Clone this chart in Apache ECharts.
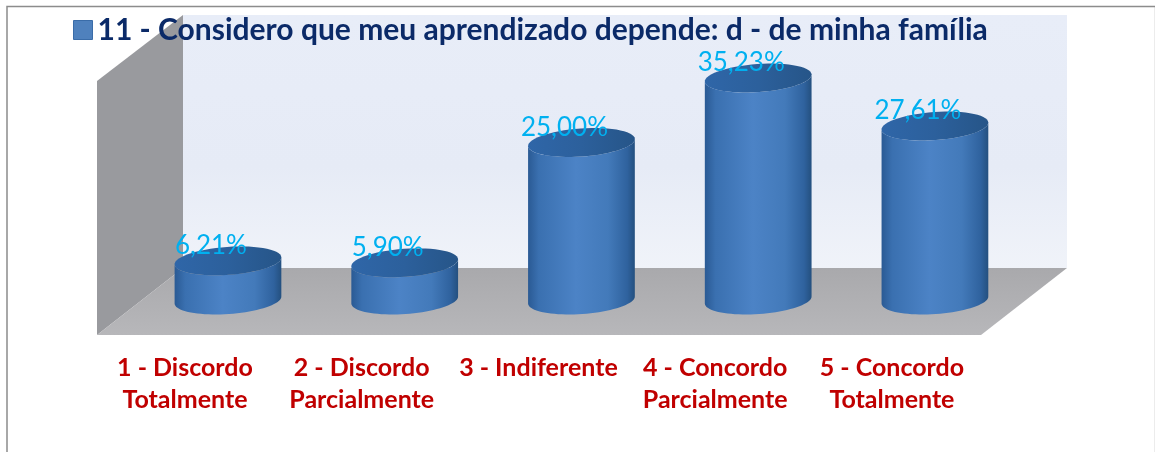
<!DOCTYPE html>
<html><head><meta charset="utf-8">
<style>html,body{margin:0;padding:0;background:#fff;overflow:hidden}#c{width:1155px;height:452px}</style>
<script src="https://cdn.jsdelivr.net/npm/echarts@6/dist/echarts.min.js"></script>
</head><body><div id="c"></div>
<script>
const seriesName = '11 - Considero que meu aprendizado depende: d - de minha família';
const categories = ['1 - Discordo\nTotalmente','2 - Discordo\nParcialmente','3 - Indiferente','4 - Concordo\nParcialmente','5 - Concordo\nTotalmente'];
const values = [6.21, 5.90, 25.00, 35.23, 27.61];

const chart = echarts.init(document.getElementById('c'), null, {renderer:'canvas'});
const TILT = -4 * Math.PI / 180, RX = 53.5, RY = 14;
function ell(cx, cy, a0, a1, n) {
  const pts = [];
  for (let i = 0; i <= n; i++) {
    const a = a0 + (a1 - a0) * i / n, x = RX * Math.cos(a), y = RY * Math.sin(a);
    pts.push([cx + x * Math.cos(TILT) - y * Math.sin(TILT), cy + x * Math.sin(TILT) + y * Math.cos(TILT)]);
  }
  return pts;
}
const bodyFill = new echarts.graphic.LinearGradient(0,0,1,0,[
  {offset:0,color:'#2a5a94'},{offset:.1,color:'#3a70b0'},{offset:.45,color:'#4c83c6'},
  {offset:.75,color:'#437aba'},{offset:.93,color:'#2f629e'},{offset:1,color:'#24507f'}]);
const topFill = new echarts.graphic.LinearGradient(0,0,1,0,[
  {offset:0,color:'#2f66a8'},{offset:.5,color:'#2c609c'},{offset:1,color:'#265588'}]);

function renderItem(params, api) {
  const top = api.coord([api.value(0), api.value(1)]);
  const base = api.coord([api.value(0), 0]);
  const cx = top[0];
  const body = ell(cx, base[1], 0, Math.PI, 40).concat(ell(cx, top[1], Math.PI, 0, 40));
  return {type:'group', children:[
    {type:'polygon', shape:{points:body}, style:{fill:bodyFill}},
    {type:'polygon', shape:{points:ell(cx, top[1], 0, 2*Math.PI, 60)}, style:{fill:topFill}},
    {type:'text', x:cx-17, y:top[1]-15, z2:10, style:{
      text:api.value(1).toFixed(2).replace('.',',')+'%',
      fill:'#00b0f0', font:'26px Lato', align:'center', verticalAlign:'middle'}}
  ]};
}
chart.setOption({
  animation:false,
  backgroundColor:'#fff',
  legend:{left:73, top:15, padding:0, itemWidth:19, itemHeight:19, itemGap:8, icon:'rect', z:10,
    data:[{name:seriesName, itemStyle:{color:'#4f81bd', borderColor:'#3a6ca8', borderWidth:1}}],
    textStyle:{color:'#0b2a68', fontSize:30, fontWeight:'bold', fontFamily:'Lato'}},
  grid:{left:139.6, width:883.7, top:48, height:252},
  xAxis:{type:'category', data:categories, axisLine:{show:false}, axisTick:{show:false},
    axisLabel:{interval:0, margin:52, padding:[0,86,0,0], color:'#c00000', fontSize:25, fontWeight:'bold',
      fontFamily:'Lato', lineHeight:32, align:'center', verticalAlign:'top'}},
  yAxis:{type:'value', min:0, max:40, show:false, splitLine:{show:false}},
  graphic:[
    {type:'polygon', z:0, shape:{points:[[183,15],[1067,15],[1067,268],[183,268]]},
      style:{fill:new echarts.graphic.LinearGradient(0,0,0,1,[{offset:0,color:'#e8edf8'},{offset:.6,color:'#e6ebf6'},{offset:1,color:'#f0f3f9'}])}},
    {type:'polygon', z:1, shape:{points:[[97,81],[183,15],[183,268],[97,335]]}, style:{fill:'#999a9e'}},
    {type:'polygon', z:1, shape:{points:[[97,335],[183,268],[1067,268],[981,335]]},
      style:{fill:new echarts.graphic.LinearGradient(0,0,0,1,[{offset:0,color:'#a9a9ac'},{offset:1,color:'#b7b7ba'}])}},
    {type:'polyline', z:2, shape:{points:[[1154.5,452],[1154.5,7]]}, style:{stroke:'#ececec', lineWidth:1, fill:null}},
    {type:'polyline', z:2, shape:{points:[[7,452],[7,6.5],[1155,6.5]]}, style:{stroke:'#8c8c8c', lineWidth:1.5, fill:null}}
  ],
  series:[{type:'custom', name:seriesName, coordinateSystem:'cartesian2d', renderItem,
    encode:{x:0,y:1}, itemStyle:{color:'#4f81bd'},
    data:values.map((v,i)=>[i,v])}]
});
</script></body></html>
